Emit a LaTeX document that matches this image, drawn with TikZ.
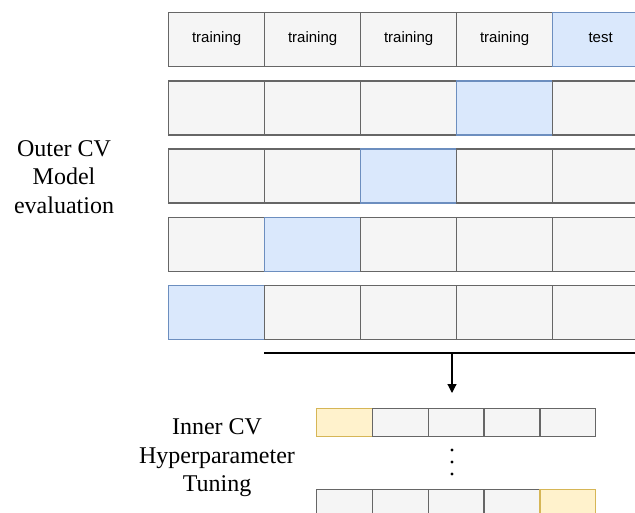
\documentclass[tikz,border=0pt]{standalone}
\usepackage{fontspec}
\setmainfont{Liberation Serif}
\setsansfont{Liberation Sans}
\usetikzlibrary{positioning,arrows.meta}
\definecolor{cellgray}{HTML}{F5F5F5}
\definecolor{cellline}{HTML}{666666}
\definecolor{testblue}{HTML}{DAE8FC}
\definecolor{testline}{HTML}{6C8EBF}
\definecolor{valyellow}{HTML}{FFF2CC}
\definecolor{valline}{HTML}{D6B656}

\begin{document}
\begin{tikzpicture}[x=1pt, y=-1pt,
    fold/.style={draw=cellline, fill=cellgray, line width=1.3pt, rectangle, anchor=north west,
        inner sep=0pt, minimum width=96pt, minimum height=54pt, text height=1.5ex, text depth=.3ex,
        font=\sffamily\fontsize{15}{18}\selectfont},
    testfold/.style={fold, draw=testline, fill=testblue},
    subfold/.style={fold, minimum width=55.8pt, minimum height=28pt},
    valfold/.style={subfold, draw=valline, fill=valyellow},
    caption/.style={align=center, font=\fontsize{24}{28.5}\selectfont}]
    \useasboundingbox (0,0) rectangle (635,513);
    \clip (0,0) rectangle (635,513);
    % outer folds
    \foreach \c in {1,...,4} \node[fold] (o-1-\c) at ({168+96*(\c-1)},12) {training};
    \node[testfold] (o-1-5) at (552,12) {test};
    \foreach \r/\t in {2/4,3/3,4/2,5/1}
        \foreach \c in {1,...,5} {
            \ifnum\c=\t\def\sty{testfold}\else\def\sty{fold}\fi
            \node[\sty] (o-\r-\c) at ({168+96*(\c-1)},{12+68.25*(\r-1)}) {};
        }
    \node[caption] (outer) at (64,177) {Outer CV\\Model\\evaluation};
    % split line and arrow
    \coordinate (bar-l) at (264,353);
    \coordinate (bar-r) at (640,353);
    \coordinate (bar-m) at (452,353);
    \coordinate (tip) at (452,393);
    \draw[line width=1.3pt] (bar-l) -- (bar-r);
    \draw[line width=1.2pt, -{Triangle[length=9pt, width=9pt]}] (bar-m) -- (tip);
    % inner folds
    \foreach \c in {1,...,5} {
        \ifnum\c=1\def\sty{valfold}\else\def\sty{subfold}\fi
        \node[\sty] (i-1-\c) at ({316+55.8*(\c-1)},408) {};
        \ifnum\c=5\def\sty{valfold}\else\def\sty{subfold}\fi
        \node[\sty] (i-2-\c) at ({316+55.8*(\c-1)},489) {};
    }
    \foreach \y in {450,462,474} \fill (452,\y) circle (1.6pt);
    \node[caption] (inner) at (217,458) {Inner CV\\Hyperparameter\\Tuning};
\end{tikzpicture}
\end{document}
